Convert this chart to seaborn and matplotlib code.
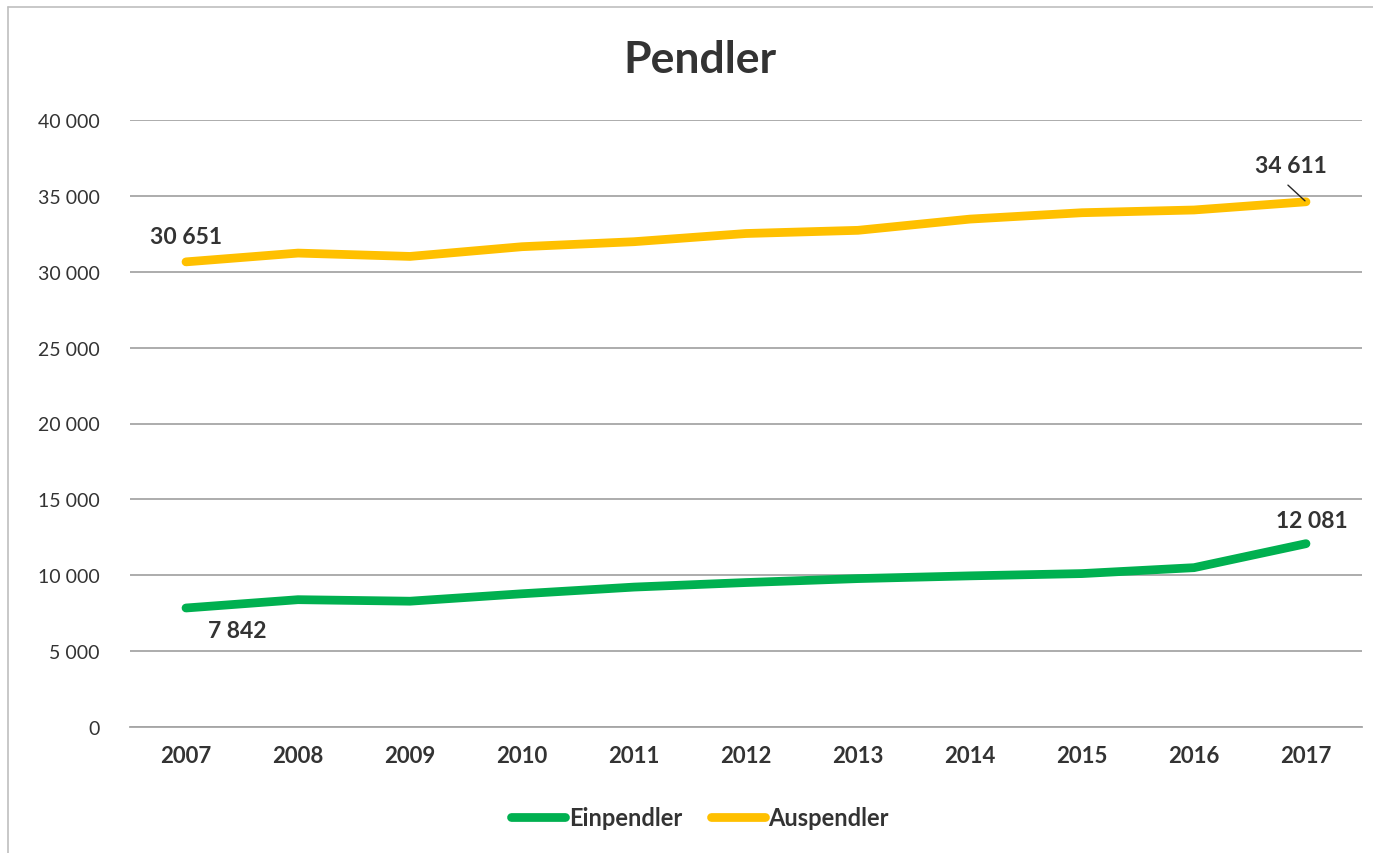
import matplotlib
matplotlib.use("Agg")
import matplotlib.pyplot as plt
from matplotlib.lines import Line2D
from matplotlib.ticker import FuncFormatter
import seaborn as sns
import pandas as pd

years = [2007, 2008, 2009, 2010, 2011, 2012, 2013, 2014, 2015, 2016, 2017]
einpendler = [7842, 8390, 8290, 8780, 9220, 9520, 9780, 9960, 10110, 10500, 12081]
auspendler = [30651, 31230, 31010, 31650, 31980, 32520, 32730, 33470, 33890, 34070, 34611]
series_names = ["Einpendler", "Auspendler"]
colors = ["#00B050", "#FFC000"]
title = "Pendler"

df = pd.DataFrame({
    "Jahr": years * 2,
    "Pendler": einpendler + auspendler,
    "Reihe": [series_names[0]] * len(years) + [series_names[1]] * len(years),
})

sns.set_style("white")
plt.rcParams["font.family"] = ["Lato", "DejaVu Sans"]

text_col = "#333333"
fig = plt.figure(figsize=(13.73, 8.54), dpi=100)
ax = fig.add_axes([130 / 1373, 1 - 728 / 854, 1232 / 1373, 607 / 854])

sns.lineplot(data=df, x="Jahr", y="Pendler", hue="Reihe", palette=colors,
             linewidth=6.3, solid_capstyle="round", legend=False, ax=ax)

ax.set_xlim(2006.5, 2017.5)
ax.set_ylim(0, 40000)
ax.set_yticks(range(0, 40001, 5000))
ax.set_xticks(years)
ax.yaxis.set_major_formatter(FuncFormatter(lambda v, p: f"{int(v):,}".replace(",", " ")))
ax.grid(axis="y", color="#A6A6A6", linewidth=1.3)
ax.set_axisbelow(True)
for s in ["top", "right", "left"]:
    ax.spines[s].set_visible(False)
ax.spines["bottom"].set_color("#A6A6A6")
ax.spines["bottom"].set_linewidth(1.3)
ax.set_xlabel("")
ax.set_ylabel("")
ax.tick_params(axis="both", length=0, colors=text_col)
ax.tick_params(axis="y", labelsize=14, pad=22)
ax.tick_params(axis="x", labelsize=16, pad=13)
for lbl in ax.get_xticklabels():
    lbl.set_fontweight("bold")

lab_kw = dict(textcoords="offset points", ha="center", va="center",
              fontsize=16.5, fontweight="bold", color=text_col)
fmt = lambda v: f"{v:,}".replace(",", " ")
ax.annotate(fmt(auspendler[0]), (years[0], auspendler[0]), xytext=(0, 18), **lab_kw)
ax.annotate(fmt(auspendler[-1]), (years[-1], auspendler[-1]), xytext=(-11, 26), **lab_kw)
# leader line from the last Auspendler label down to its point
ax.annotate("", (years[-1], auspendler[-1]), xytext=(-13, 12), textcoords="offset points",
            arrowprops=dict(arrowstyle="-", color="#262626", lw=1, shrinkA=0, shrinkB=1))
ax.annotate(fmt(einpendler[0]), (years[0], einpendler[0]), xytext=(37, -16), **lab_kw)
ax.annotate(fmt(einpendler[-1]), (years[-1], einpendler[-1]), xytext=(4, 17), **lab_kw)

fig.text(700 / 1373, 1 - 60 / 854, title, ha="center", va="center",
         fontsize=32, fontweight="bold", color=text_col)

handles = [Line2D([0], [0], color=c, lw=6.3, solid_capstyle="round") for c in colors]
leg = fig.legend(handles, series_names, loc="center", bbox_to_anchor=(700 / 1373, 1 - 819 / 854),
                 ncol=2, frameon=False, handlelength=2.3, handletextpad=0.15,
                 columnspacing=1.2, prop=dict(size=17, weight="bold"))
for t in leg.get_texts():
    t.set_color(text_col)

# chart frame
fig.add_artist(Line2D([8 / 1373, 1], [1 - 8 / 854, 1 - 8 / 854], color="#BFBFBF", lw=1.2,
                      transform=fig.transFigure))
fig.add_artist(Line2D([8 / 1373, 8 / 1373], [0, 1 - 8 / 854], color="#BFBFBF", lw=1.2,
                      transform=fig.transFigure))

fig.savefig("out.png", dpi=100)
